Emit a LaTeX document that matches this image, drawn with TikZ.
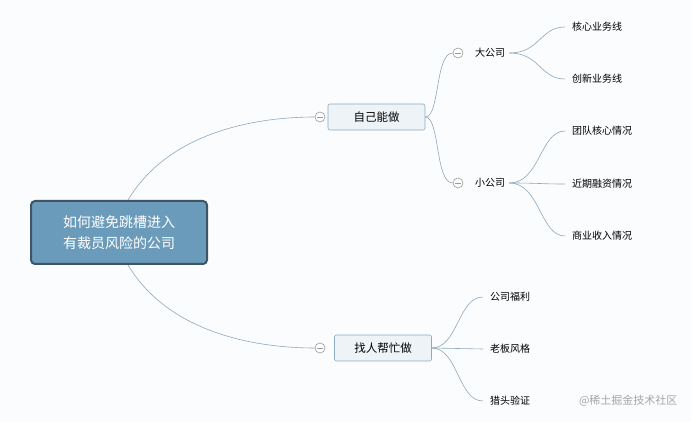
\documentclass[tikz,border=0pt]{standalone}
\usepackage{fontspec}
\newfontfamily\cjk{Noto Sans CJK SC}
\definecolor{lc}{HTML}{8FA8BC}
\definecolor{bc}{HTML}{8BAAC3}
\definecolor{bf}{HTML}{EEF3F7}
\definecolor{rb}{HTML}{3E5566}
\definecolor{rf}{HTML}{6B9BBA}
\definecolor{bg}{HTML}{FBFCFD}
\begin{document}
\begin{tikzpicture}[x=1pt,y=-1pt,font=\cjk\fontsize{10}{12}\selectfont,
  ln/.style={draw=lc,line width=0.6pt},
  br/.style={draw=bc,fill=bf,rounded corners=2pt,minimum width=97pt,minimum height=26pt,line width=0.6pt,font=\cjk\fontsize{11.5}{13}\selectfont},
  lf/.style={inner sep=1pt,anchor=west},
  mc/.style={circle,draw=gray!80,line width=0.6pt,minimum size=10pt,inner sep=0pt,fill=white,path picture={\draw[gray!80] ([xshift=-3pt]path picture bounding box.center)--([xshift=3pt]path picture bounding box.center);}}]
\fill[bg] (0,0) rectangle (691,422);
\useasboundingbox (0,0) rectangle (691,422);
\node[draw=rb,fill=rf,line width=2pt,rounded corners=4pt,minimum width=176pt,minimum height=63pt,text=white,align=center,font=\cjk\fontsize{14}{21}\selectfont] (root) at (119,232.5) {如何避免跳槽进入\\有裁员风险的公司};
\node[br] (b1) at (376.5,117) {自己能做};
\node[br] (b2) at (383,348) {找人帮忙做};
\node[mc] (c1) at (320,117) {};
\node[mc] (c2) at (320,348) {};
\draw[ln] (128,200) .. controls (170,130) and (260,117) .. (c1.west);
\draw[ln] (128,265) .. controls (170,335) and (260,348) .. (c2.west);
\node[mc] (c3) at (458,53) {};
\node[mc] (c4) at (458,183) {};
\node[lf] (d1) at (474,53) {大公司};
\node[lf] (d2) at (474,183) {小公司};
\draw[ln] (b1.east) .. controls (440,117) and (435,53) .. (c3.west);
\draw[ln] (b1.east) .. controls (440,117) and (435,183) .. (c4.west);
\node[lf] (e1) at (571,27) {核心业务线};
\node[lf] (e2) at (571,79) {创新业务线};
\node[lf] (e3) at (571,131) {团队核心情况};
\node[lf] (e4) at (571,184) {近期融资情况};
\node[lf] (e5) at (571,236) {商业收入情况};
\foreach \e in {e1,e2} \draw[ln] ([xshift=3pt]d1.east) .. controls (540,53) and (540,0|-\e.west) .. ([xshift=-6pt]\e.west);
\foreach \e in {e3,e4,e5} \draw[ln] ([xshift=3pt]d2.east) .. controls (540,183) and (540,0|-\e.west) .. ([xshift=-6pt]\e.west);
\node[lf] (f1) at (489,297) {公司福利};
\node[lf] (f2) at (489,349) {老板风格};
\node[lf] (f3) at (489,401) {猎头验证};
\foreach \e in {f1,f2,f3} \draw[ln] (b2.east) .. controls (458,348) and (458,0|-\e.west) .. ([xshift=-6pt]\e.west);
\node[anchor=east,text=gray!70,font=\cjk\fontsize{11}{13}\selectfont] (wm) at (681,401) {@稀土掘金技术社区};
\end{tikzpicture}
\end{document}
